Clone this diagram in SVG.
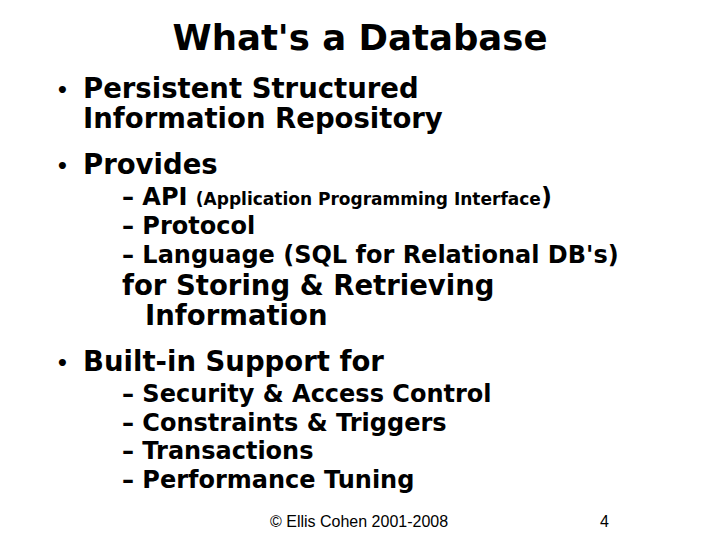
<svg xmlns="http://www.w3.org/2000/svg" width="720" height="540" viewBox="0 0 720 540">
<style>
text{font-family:"DejaVu Sans",Verdana,sans-serif;font-weight:bold;fill:#000}
.t{font-size:35.5px}
.b{font-size:27.5px}
.d{font-size:20px}
.s{font-size:24px}
.f{font-family:"Liberation Sans",Arial,sans-serif;font-weight:normal;font-size:16px}
</style>
<rect width="720" height="540" fill="#fff"/>
<text class="t" x="360" y="50" text-anchor="middle">What's a Database</text>
<text class="d" x="56" y="97">•</text>
<text class="b" x="83" y="98">Persistent Structured</text>
<text class="b" x="83" y="128">Information Repository</text>
<text class="d" x="56" y="173">•</text>
<text class="b" x="83" y="174">Provides</text>
<text class="s" x="122" y="205">– API <tspan font-size="17">(Application Programming Interface</tspan>)</text>
<text class="s" x="122" y="234">– Protocol</text>
<text class="s" x="122" y="263">– Language (SQL for Relational DB's)</text>
<text class="b" x="122" y="295">for Storing &amp; Retrieving</text>
<text class="b" x="145" y="325">Information</text>
<text class="d" x="56" y="370">•</text>
<text class="b" x="83" y="371">Built-in Support for</text>
<text class="s" x="122" y="402">– Security &amp; Access Control</text>
<text class="s" x="122" y="431">– Constraints &amp; Triggers</text>
<text class="s" x="122" y="459">– Transactions</text>
<text class="s" x="122" y="488">– Performance Tuning</text>
<text class="f" x="270" y="527">© Ellis Cohen 2001-2008</text>
<text class="f" x="600" y="527">4</text>
</svg>
